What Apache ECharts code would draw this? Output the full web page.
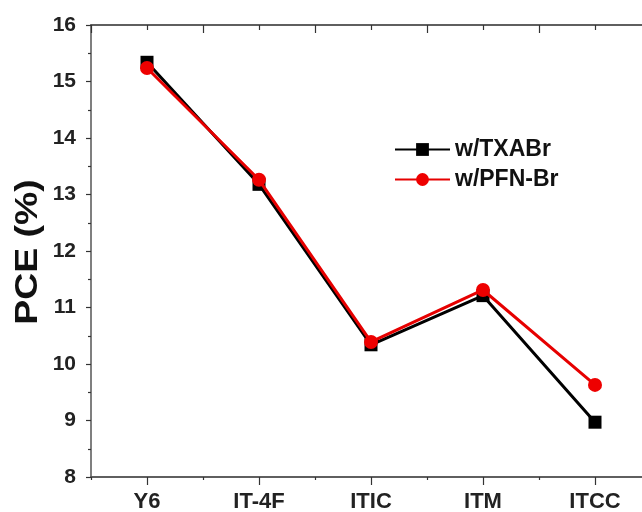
<!DOCTYPE html>
<html>
<head>
<meta charset="utf-8">
<script src="https://cdn.jsdelivr.net/npm/echarts@6/dist/echarts.min.js"></script>
<style>html,body{margin:0;padding:0;background:#fff;}#c{width:642px;height:512px;}</style>
</head>
<body>
<div id="c"></div>
<script>
const categories = ['Y6', 'IT-4F', 'ITIC', 'ITM', 'ITCC'];
const txabr = [15.34, 13.18, 10.34, 11.21, 8.97];
const pfnbr = [15.24, 13.26, 10.39, 11.31, 9.63];
const yTicks = { min: 8, max: 16, interval: 1 };
const seriesNames = ['w/TXABr', 'w/PFN-Br'];
const yTitle = 'PCE (%)';

const FONT = '"Liberation Sans", Arial, sans-serif';
const axisColor = '#555';

function catAxis(pos, showLabel, alignWithLabel, tickLen, inside) {
  return {
    type: 'category', data: categories, position: pos, boundaryGap: true,
    axisLine: { show: true, lineStyle: { color: axisColor, width: 1.5 } },
    axisTick: { show: true, alignWithLabel: alignWithLabel, length: tickLen, inside: inside, lineStyle: { color: '#333', width: 1.2 } },
    axisLabel: { show: showLabel, margin: 14, fontFamily: FONT, fontWeight: 'bold', fontSize: 22, color: '#222' },
    splitLine: { show: false }
  };
}

const chart = echarts.init(document.getElementById('c'), null, { renderer: 'canvas' });
chart.setOption({
  backgroundColor: '#fff',
  animation: false,
  grid: { left: 91, top: 25, width: 560, height: 452, outerBoundsMode: 'none', containLabel: false },
  legend: {
    left: 389, top: 133, orient: 'vertical', itemGap: 7, itemWidth: 55, itemHeight: 16,
    textStyle: { fontFamily: FONT, fontWeight: 'bold', fontSize: 23, color: '#111' },
    data: seriesNames
  },
  graphic: [{
    type: 'text', x: 28, y: 252, rotation: Math.PI / 2, scaleX: 1.17,
    style: { text: yTitle, fontFamily: FONT, fontWeight: 'bold', fontSize: 32, fill: '#111', align: 'center', verticalAlign: 'middle' }
  }],
  xAxis: [
    catAxis('bottom', true, false, 3, false),
    catAxis('bottom', false, true, 8, false),
    catAxis('top', false, false, 8, true),
    catAxis('top', false, true, 5, true)
  ],
  yAxis: {
    type: 'value', min: yTicks.min, max: yTicks.max, interval: yTicks.interval,
    axisLine: { show: true, lineStyle: { color: axisColor, width: 1.5 } },
    axisTick: { show: true, length: 5, lineStyle: { color: '#333', width: 1.2 } },
    minorTick: { show: true, splitNumber: 2, length: 3, lineStyle: { color: '#333', width: 1.2 } },
    axisLabel: { margin: 15, fontFamily: FONT, fontWeight: 'bold', fontSize: 21, color: '#222' },
    splitLine: { show: false }
  },
  series: [
    {
      name: seriesNames[0], type: 'line', data: txabr, xAxisIndex: 0,
      symbol: 'rect', symbolSize: 13,
      lineStyle: { color: '#000', width: 3 }, itemStyle: { color: '#000' }, z: 2
    },
    {
      name: seriesNames[1], type: 'line', data: pfnbr, xAxisIndex: 0,
      symbol: 'circle', symbolSize: 14,
      lineStyle: { color: '#e60000', width: 3 }, itemStyle: { color: '#ee0000' }, z: 3
    }
  ]
});
</script>
</body>
</html>
